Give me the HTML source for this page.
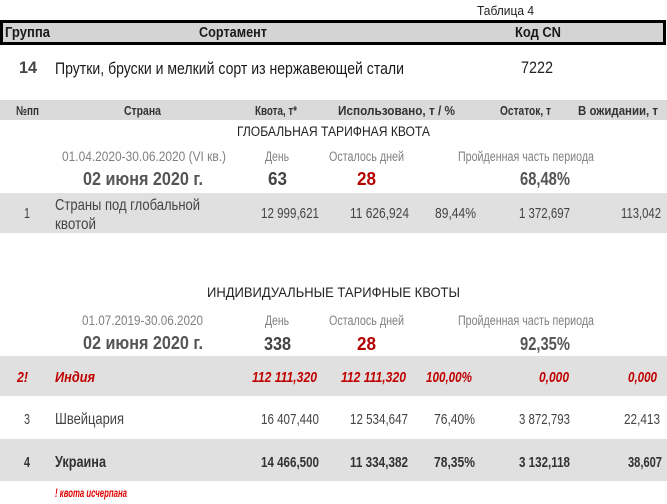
<!DOCTYPE html>
<html><head><meta charset="utf-8"><style>
html,body{margin:0;padding:0;background:#fff;width:667px;height:504px;overflow:hidden}
svg{display:block}
text{font-family:"Liberation Sans","DejaVu Sans",sans-serif}
.b{font-weight:bold}
.bi{font-weight:bold;font-style:italic}
</style></head><body>
<svg width="667" height="504" viewBox="0 0 667 504" xmlns="http://www.w3.org/2000/svg">
<rect x="0" y="0" width="667" height="504" fill="#fff"/>

<text x="477" y="15" font-size="12.5" fill="#222" textLength="57" lengthAdjust="spacingAndGlyphs">Таблица 4</text>

<rect x="1.5" y="21.5" width="663" height="22" fill="#d4d4d4" stroke="#000" stroke-width="3"/>
<text class="b" x="5" y="37" font-size="14.5" fill="#1a1a1a" textLength="45" lengthAdjust="spacingAndGlyphs">Группа</text>
<text class="b" x="199" y="37" font-size="14.5" fill="#1a1a1a" textLength="68" lengthAdjust="spacingAndGlyphs">Сортамент</text>
<text class="b" x="515" y="37" font-size="14.5" fill="#1a1a1a" textLength="46" lengthAdjust="spacingAndGlyphs">Код CN</text>

<text class="b" x="19" y="73" font-size="17" fill="#444" textLength="18" lengthAdjust="spacingAndGlyphs">14</text>
<text x="55" y="74" font-size="17" fill="#1a1a1a" textLength="349" lengthAdjust="spacingAndGlyphs">Прутки, бруски и мелкий сорт из нержавеющей стали</text>
<text x="521" y="73" font-size="17" fill="#222" textLength="32" lengthAdjust="spacingAndGlyphs">7222</text>

<rect x="0" y="100" width="667" height="20" fill="#dadada"/>
<text class="b" x="16" y="115" font-size="13" fill="#333" textLength="23" lengthAdjust="spacingAndGlyphs">№пп</text>
<text class="b" x="124" y="115" font-size="13" fill="#333" textLength="37" lengthAdjust="spacingAndGlyphs">Страна</text>
<text class="b" x="255" y="115" font-size="13" fill="#333" textLength="42" lengthAdjust="spacingAndGlyphs">Квота, т*</text>
<text class="b" x="338" y="115" font-size="13" fill="#333" textLength="117" lengthAdjust="spacingAndGlyphs">Использовано, т / %</text>
<text class="b" x="500" y="115" font-size="13" fill="#333" textLength="51" lengthAdjust="spacingAndGlyphs">Остаток, т</text>
<text class="b" x="578" y="115" font-size="13" fill="#333" textLength="80" lengthAdjust="spacingAndGlyphs">В ожидании, т</text>

<text x="237" y="136" font-size="13.5" fill="#222" textLength="193" lengthAdjust="spacingAndGlyphs">ГЛОБАЛЬНАЯ ТАРИФНАЯ КВОТА</text>

<text x="62" y="161" font-size="13.5" fill="#808080" textLength="164" lengthAdjust="spacingAndGlyphs">01.04.2020-30.06.2020 (VI кв.)</text>
<text x="265" y="161" font-size="13.5" fill="#808080" textLength="24" lengthAdjust="spacingAndGlyphs">День</text>
<text x="329" y="161" font-size="13.5" fill="#808080" textLength="75" lengthAdjust="spacingAndGlyphs">Осталось дней</text>
<text x="458" y="161" font-size="13.5" fill="#808080" textLength="136" lengthAdjust="spacingAndGlyphs">Пройденная часть периода</text>

<text class="b" x="83" y="185" font-size="18" fill="#555" textLength="120" lengthAdjust="spacingAndGlyphs">02 июня 2020 г.</text>
<text class="b" x="268" y="185" font-size="18" fill="#444" textLength="19" lengthAdjust="spacingAndGlyphs">63</text>
<text class="b" x="357" y="185" font-size="18" fill="#b30000" textLength="19" lengthAdjust="spacingAndGlyphs">28</text>
<text class="b" x="520" y="185" font-size="18" fill="#555" textLength="50" lengthAdjust="spacingAndGlyphs">68,48%</text>

<rect x="0" y="193" width="667" height="40" fill="#e0e0e0"/>
<text x="24" y="218" font-size="15" fill="#444" textLength="6" lengthAdjust="spacingAndGlyphs">1</text>
<text x="55" y="210" font-size="16" fill="#444" textLength="145" lengthAdjust="spacingAndGlyphs">Страны под глобальной</text>
<text x="55" y="229" font-size="16" fill="#444" textLength="41" lengthAdjust="spacingAndGlyphs">квотой</text>
<text x="261" y="218" font-size="15" fill="#444" textLength="58" lengthAdjust="spacingAndGlyphs">12 999,621</text>
<text x="350" y="218" font-size="15" fill="#444" textLength="59" lengthAdjust="spacingAndGlyphs">11 626,924</text>
<text x="435" y="218" font-size="15" fill="#444" textLength="41" lengthAdjust="spacingAndGlyphs">89,44%</text>
<text x="519" y="218" font-size="15" fill="#444" textLength="51" lengthAdjust="spacingAndGlyphs">1 372,697</text>
<text x="621" y="218" font-size="15" fill="#444" textLength="40" lengthAdjust="spacingAndGlyphs">113,042</text>

<text x="207" y="297" font-size="14" fill="#222" textLength="253" lengthAdjust="spacingAndGlyphs">ИНДИВИДУАЛЬНЫЕ ТАРИФНЫЕ КВОТЫ</text>

<text x="82" y="325" font-size="13.5" fill="#808080" textLength="121" lengthAdjust="spacingAndGlyphs">01.07.2019-30.06.2020</text>
<text x="265" y="325" font-size="13.5" fill="#808080" textLength="24" lengthAdjust="spacingAndGlyphs">День</text>
<text x="329" y="325" font-size="13.5" fill="#808080" textLength="75" lengthAdjust="spacingAndGlyphs">Осталось дней</text>
<text x="458" y="325" font-size="13.5" fill="#808080" textLength="136" lengthAdjust="spacingAndGlyphs">Пройденная часть периода</text>

<text class="b" x="83" y="349" font-size="18" fill="#555" textLength="120" lengthAdjust="spacingAndGlyphs">02 июня 2020 г.</text>
<text class="b" x="264" y="350" font-size="18" fill="#444" textLength="27" lengthAdjust="spacingAndGlyphs">338</text>
<text class="b" x="357" y="350" font-size="18" fill="#b30000" textLength="19" lengthAdjust="spacingAndGlyphs">28</text>
<text class="b" x="520" y="350" font-size="18" fill="#555" textLength="50" lengthAdjust="spacingAndGlyphs">92,35%</text>

<rect x="0" y="356" width="667" height="40" fill="#e0e0e0"/>
<text class="bi" x="17" y="382" font-size="14.5" fill="#c00000" textLength="11" lengthAdjust="spacingAndGlyphs">2!</text>
<text class="bi" x="55" y="382" font-size="15" fill="#c00000" textLength="40" lengthAdjust="spacingAndGlyphs">Индия</text>
<text class="bi" x="252" y="382" font-size="14.5" fill="#c00000" textLength="65" lengthAdjust="spacingAndGlyphs">112 111,320</text>
<text class="bi" x="341" y="382" font-size="14.5" fill="#c00000" textLength="65" lengthAdjust="spacingAndGlyphs">112 111,320</text>
<text class="bi" x="426" y="382" font-size="14.5" fill="#c00000" textLength="46" lengthAdjust="spacingAndGlyphs">100,00%</text>
<text class="bi" x="539" y="382" font-size="14.5" fill="#c00000" textLength="30" lengthAdjust="spacingAndGlyphs">0,000</text>
<text class="bi" x="628" y="382" font-size="14.5" fill="#c00000" textLength="29" lengthAdjust="spacingAndGlyphs">0,000</text>

<text x="24" y="424" font-size="15" fill="#444" textLength="6" lengthAdjust="spacingAndGlyphs">3</text>
<text x="55" y="424" font-size="16" fill="#444" textLength="69" lengthAdjust="spacingAndGlyphs">Швейцария</text>
<text x="261" y="424" font-size="15" fill="#444" textLength="58" lengthAdjust="spacingAndGlyphs">16 407,440</text>
<text x="350" y="424" font-size="15" fill="#444" textLength="58" lengthAdjust="spacingAndGlyphs">12 534,647</text>
<text x="434" y="424" font-size="15" fill="#444" textLength="41" lengthAdjust="spacingAndGlyphs">76,40%</text>
<text x="519" y="424" font-size="15" fill="#444" textLength="51" lengthAdjust="spacingAndGlyphs">3 872,793</text>
<text x="624" y="424" font-size="15" fill="#444" textLength="36" lengthAdjust="spacingAndGlyphs">22,413</text>

<rect x="0" y="439" width="667" height="42" fill="#e0e0e0"/>
<text class="b" x="24" y="467" font-size="15" fill="#333" textLength="6" lengthAdjust="spacingAndGlyphs">4</text>
<text class="b" x="55" y="467" font-size="16" fill="#333" textLength="51" lengthAdjust="spacingAndGlyphs">Украина</text>
<text class="b" x="261" y="467" font-size="15" fill="#333" textLength="58" lengthAdjust="spacingAndGlyphs">14 466,500</text>
<text class="b" x="350" y="467" font-size="15" fill="#333" textLength="58" lengthAdjust="spacingAndGlyphs">11 334,382</text>
<text class="b" x="434" y="467" font-size="15" fill="#333" textLength="41" lengthAdjust="spacingAndGlyphs">78,35%</text>
<text class="b" x="519" y="467" font-size="15" fill="#333" textLength="51" lengthAdjust="spacingAndGlyphs">3 132,118</text>
<text class="b" x="628" y="467" font-size="15" fill="#333" textLength="34" lengthAdjust="spacingAndGlyphs">38,607</text>

<text class="bi" x="55" y="497" font-size="12" fill="#e00000" textLength="72" lengthAdjust="spacingAndGlyphs">! квота исчерпана</text>
</svg>
</body></html>
